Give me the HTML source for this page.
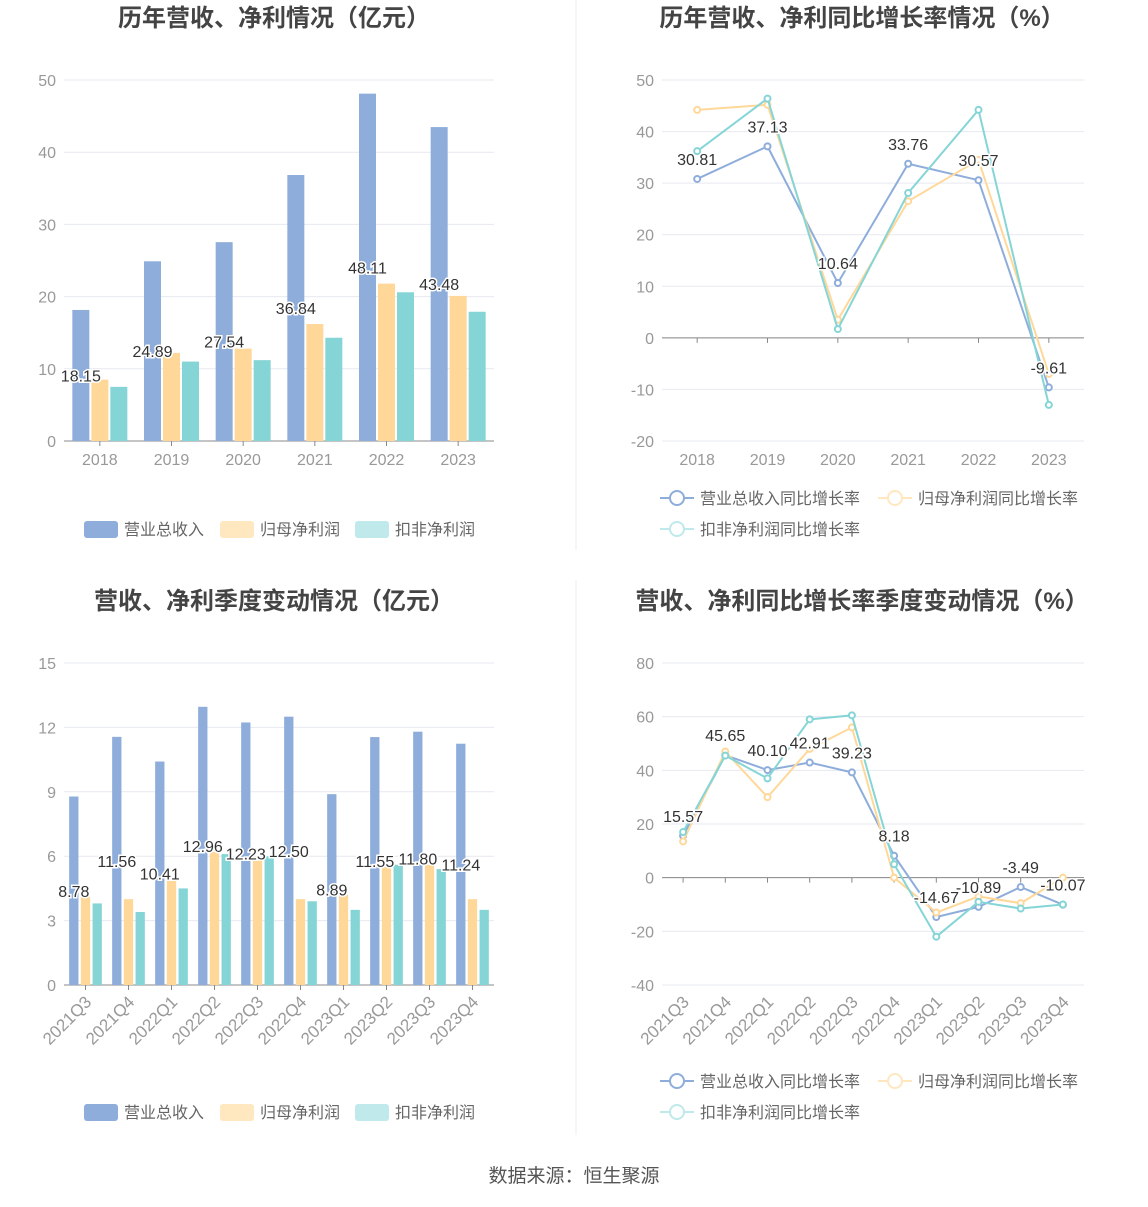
<!DOCTYPE html>
<html><head><meta charset="utf-8"><style>
body{margin:0;background:#fff;font-family:"Liberation Sans","Noto Sans CJK SC",sans-serif;}
svg text{font-family:"Liberation Sans","Noto Sans CJK SC",sans-serif;}
</style></head><body>
<svg id="s" width="1148" height="1202" viewBox="0 0 1148 1202" xmlns="http://www.w3.org/2000/svg">
<line x1="576" y1="0" x2="576" y2="550" stroke="#eee"/>
<line x1="576" y1="580" x2="576" y2="1135" stroke="#eee"/>
<text x="574" y="1182" text-anchor="middle" font-size="19" fill="#555">数据来源：恒生聚源</text>
</svg>
<script>
const years=["2018","2019","2020","2021","2022","2023"];
const annRev=[18.15,24.89,27.54,36.84,48.11,43.48];
const annNet=[8.5,12.2,12.8,16.2,21.8,20.1];
const annDed=[7.5,11.0,11.2,14.3,20.6,17.9];
const annRevG=[30.81,37.13,10.64,33.76,30.57,-9.61];
const annNetG=[44.2,45.2,3.5,26.5,34.5,-7.0];
const annDedG=[36.2,46.4,1.7,28.1,44.2,-13.0];
const quarters=["2021Q3","2021Q4","2022Q1","2022Q2","2022Q3","2022Q4","2023Q1","2023Q2","2023Q3","2023Q4"];
const qRev=[8.78,11.56,10.41,12.96,12.23,12.50,8.89,11.55,11.80,11.24];
const qNet=[4.1,4.0,4.9,6.2,5.8,4.0,4.2,5.5,5.6,4.0];
const qDed=[3.8,3.4,4.5,6.1,6.0,3.9,3.5,5.6,5.4,3.5];
const qRevG=[15.57,45.65,40.10,42.91,39.23,8.18,-14.67,-10.89,-3.49,-10.07];
const qNetG=[13.5,47.0,30.0,48.0,56.0,0.0,-13.0,-7.0,-9.5,0.0];
const qDedG=[17.0,45.5,37.0,59.0,60.5,5.0,-22.0,-9.0,-11.5,-10.0];
const ticks1=[0,10,20,30,40,50],ticks2=[-20,-10,0,10,20,30,40,50],ticks3=[0,3,6,9,12,15],ticks4=[-40,-20,0,20,40,60,80];
const C=["#8EADDB","#FFD899","#85D5D7"],CL=["#8EADDB","#FFE7C0","#BFE9EA"];
const S=document.getElementById('s');const NS="http://www.w3.org/2000/svg";
function el(t,a,txt){const e=document.createElementNS(NS,t);for(const k in a)e.setAttribute(k,a[k]);if(txt!==undefined)e.textContent=txt;S.appendChild(e);return e;}
function fmt(v){return v.toFixed(2);}
function axes(o){
 const y=v=>o.y0+(v-o.tmin)/(o.tmax-o.tmin)*(o.y1-o.y0);
 o.ticks.forEach(t=>{const g=el('line',{x1:o.x0,x2:o.x1,y1:y(t),y2:y(t),stroke:'#E6E9F0'});
 
 const l=el('text',{x:o.x0-8,y:y(t)+6,'text-anchor':'end','font-size':16,fill:'#999'},t);
 });
 const ax=el('line',{x1:o.x0,x2:o.x1,y1:y(0),y2:y(0),stroke:'#888'});
 
 const n=o.cats.length,bw=(o.x1-o.x0)/n,cx=i=>o.x0+bw*(i+0.5);
 o.cats.forEach((c,i)=>{const tk=el('line',{x1:cx(i),x2:cx(i),y1:y(0),y2:y(0)+5,stroke:'#888'});
 
 let l;const by=o.y0+24;
 if(o.rot){l=el('text',{x:cx(i)+7,y:o.y0+18,'text-anchor':'end','font-size':17,fill:'#999',transform:`rotate(-45 ${cx(i)+7} ${o.y0+18})`},c);}
 else l=el('text',{x:cx(i),y:by,'text-anchor':'middle','font-size':16,fill:'#999'},c);
 });
 return {y,cx,bw};
}
function lbl(x,yy,t){const e=el('text',{x:x,y:yy+6,'text-anchor':'middle','font-size':16,fill:'#333',stroke:'#fff','stroke-width':3,'paint-order':'stroke'},t);
 }
function title(x,yy,t){const e=el('text',{x:x,y:yy,'text-anchor':'middle','font-size':24,'font-weight':'bold',fill:'#444'},t);
 }
function barChart(o,series,bwid,gap){
 const a=axes(o);
 o.cats.forEach((c,i)=>{series.forEach((arr,k)=>{const x=a.cx(i)+(k-1)*(bwid+gap)-bwid/2;const yt=a.y(arr[i]);
  const r=el('rect',{x:x,y:yt,width:bwid,height:a.y(0)-yt,fill:C[k]});
  
  });
  lbl(a.cx(i)-(bwid+gap),a.y(series[0][i]/2),fmt(series[0][i]));});
}
function lineChart(o,series){
 const a=axes(o);
 series.forEach((arr,k)=>{const pts=arr.map((v,i)=>a.cx(i)+','+a.y(v)).join(' ');
  const p=el('polyline',{points:pts,fill:'none',stroke:C[k],'stroke-width':2});
  
  
  arr.forEach((v,i)=>{const c=el('circle',{cx:a.cx(i),cy:a.y(v),r:3,fill:'#fff',stroke:C[k],'stroke-width':2});
  });});
 series[0].forEach((v,i)=>lbl(a.cx(i),a.y(v)-20,fmt(v)));
}
function barLegend(y0){
 const items=[["营业总收入",84],["归母净利润",220],["扣非净利润",355]];
 items.forEach((it,k)=>{const r=el('rect',{x:it[1],y:y0-8,width:34,height:17,rx:3,fill:CL[k]});
 
 const t=el('text',{x:it[1]+40,y:y0+6,'font-size':16,fill:'#666'},it[0]);
 });
}
function lineLegend(y0){
 const items=[["营业总收入同比增长率",660,y0],["归母净利润同比增长率",878,y0],["扣非净利润同比增长率",660,y0+31]];
 items.forEach((it,k)=>{const l=el('line',{x1:it[1],x2:it[1]+34,y1:it[2],y2:it[2],stroke:CL[k],'stroke-width':2});
 
 const c=el('circle',{cx:it[1]+17,cy:it[2],r:7,fill:'#fff',stroke:CL[k],'stroke-width':2});
 
 const t=el('text',{x:it[1]+40,y:it[2]+6,'font-size':16,fill:'#666'},it[0]);
 });
}
title(274,26,"历年营收、净利情况（亿元）");
title(862,26,"历年营收、净利同比增长率情况（%）");
title(274,609,"营收、净利季度变动情况（亿元）");
title(862,609,"营收、净利同比增长率季度变动情况（%）");
barChart({x0:64,x1:494,y0:441,y1:80,tmin:0,tmax:50,ticks:ticks1,cats:years},[annRev,annNet,annDed],17,2);
lineChart({x0:662,x1:1084,y0:441,y1:80,tmin:-20,tmax:50,ticks:ticks2,cats:years},[annRevG,annNetG,annDedG]);
barChart({x0:64,x1:494,y0:985,y1:663,tmin:0,tmax:15,ticks:ticks3,cats:quarters,rot:true},[qRev,qNet,qDed],9.3,2.4);
lineChart({x0:662,x1:1084,y0:985,y1:663,tmin:-40,tmax:80,ticks:ticks4,cats:quarters,rot:true},[qRevG,qNetG,qDedG]);
barLegend(529);barLegend(1112);lineLegend(498);lineLegend(1081);
</script>
</body></html>
